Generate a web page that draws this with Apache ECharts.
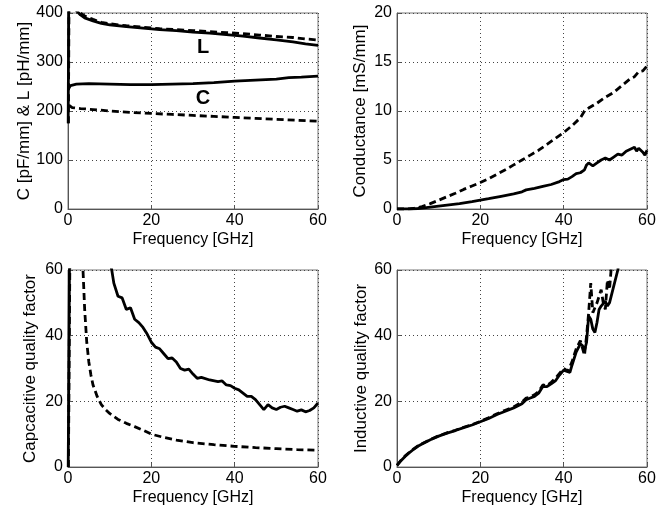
<!DOCTYPE html>
<html>
<head>
<meta charset="utf-8">
<script src="https://cdn.jsdelivr.net/npm/echarts@6/dist/echarts.min.js"></script>
<style>
  html, body { margin: 0; padding: 0; background: #fff; }
  #chart { width: 670px; height: 511px; }
</style>
</head>
<body>
<div id="chart"></div>
<script>
// x axis ticks (GHz), shared by all panels
const freqTicks = [0, 20, 40, 60];

/* ------------------------- C & L (top left) ------------------------- */
const lSolid = [
  [0.05, 175], [0.3, 700], [1, 425], [2, 405], [3, 396], [4, 390], [6, 384],
  [8, 379], [10, 376], [14, 372], [18, 369], [22, 366], [26, 364], [30, 361],
  [34, 359], [38, 356], [42, 353], [46, 349], [50, 345], [54, 341], [57, 337], [60, 334]
];
const lDashed = [
  [0.1, 175], [0.4, 700], [1, 430], [2, 408], [3, 400], [4, 394], [6, 387],
  [8, 381], [10, 378], [14, 374], [18, 371], [22, 368], [26, 366], [30, 364],
  [34, 362], [38, 360], [42, 358], [46, 355], [50, 352], [54, 350], [57, 347], [60, 345]
];
const cSolid = [
  [0.1, 245], [0.6, 252], [2, 255], [5, 256], [10, 255], [15, 254], [20, 254],
  [25, 255], [30, 256], [35, 258], [40, 261], [45, 263], [50, 265], [53, 268],
  [56, 269], [60, 271]
];
const cDashed = [
  [0.2, 212], [1, 207], [3, 205], [6, 203], [10, 200], [15, 197], [20, 195],
  [25, 193], [30, 191], [35, 189], [40, 187], [45, 185], [50, 183], [55, 181], [60, 179]
];

/* ---------------------- Conductance (top right) --------------------- */
const gDashed = [
  [0, 0], [2, 0], [4, 0.05], [6, 0.25], [8, 0.55], [10, 0.9], [12, 1.25], [14, 1.6],
  [16, 2.0], [18, 2.35], [20, 2.7], [22, 3.1], [24, 3.55], [26, 4.0], [28, 4.5],
  [30, 5.0], [32, 5.5], [34, 6.0], [36, 6.6], [38, 7.2], [40, 7.8], [42, 8.5],
  [44, 9.3], [45, 10.0], [46, 10.3], [48, 10.8], [50, 11.4], [52, 11.9], [54, 12.6],
  [56, 13.3], [57, 13.5], [58, 14.0], [59, 14.1], [60, 14.6]
];
const gSolid = [
  [0, 0], [3, 0], [5, 0.05], [7, 0.15], [10, 0.3], [12, 0.4], [15, 0.55], [18, 0.75],
  [20, 0.9], [22, 1.05], [25, 1.3], [28, 1.55], [30, 1.75], [31, 1.95], [33, 2.1],
  [35, 2.3], [37, 2.5], [39, 2.8], [40, 3.0], [41, 3.05], [42, 3.3], [43, 3.6],
  [44, 3.7], [45, 4.0], [45.5, 4.5], [46, 4.7], [47, 4.4], [48, 4.7], [49, 5.0],
  [50, 5.2], [51, 5.0], [52, 5.3], [53, 5.6], [54, 5.5], [55, 5.9], [56, 6.1],
  [57, 6.3], [57.5, 5.9], [58, 6.2], [59, 5.8], [59.5, 5.5], [60, 6.0]
];

/* ------------------ Capacitive quality (bottom left) ---------------- */
const qcSolid = [
  [0.05, 0], [0.5, 90], [5, 90], [10, 63], [10.5, 60], [11, 56], [12, 52], [13, 51.5],
  [14, 48], [15, 48.5], [16, 45], [17, 44], [18, 42.5], [19, 40.5], [20, 38],
  [21, 36.5], [22, 36], [23, 34.5], [24, 33], [25, 33.2], [26, 32], [27, 30],
  [28, 29.5], [29, 29.8], [30, 28.3], [31, 27], [32, 27.3], [34, 26.5], [36, 26],
  [37, 26.2], [38, 25], [39, 24.8], [40, 24], [41, 23.5], [42, 22.5], [43, 21.5],
  [44, 21.5], [45, 20.5], [46, 19], [47, 17.5], [48, 19], [49, 18], [50, 17.5],
  [51, 18.2], [52, 18.5], [53, 18], [54, 17.5], [55, 17], [56, 17.4], [57, 16.8],
  [58, 17.2], [59, 18], [60, 19.5]
];
const qcDashed = [
  [0.1, 0], [0.6, 90], [3.2, 70], [3.6, 60], [4, 48], [4.5, 38], [5, 32], [5.5, 28],
  [6, 25], [7, 21.5], [8, 19], [9, 17.5], [10, 16.3], [12, 14.5], [14, 13.3],
  [16, 12.3], [18, 11.2], [20, 10], [23, 9], [26, 8.2], [30, 7.4], [35, 6.8],
  [40, 6.3], [45, 5.9], [50, 5.6], [55, 5.3], [60, 5.1]
];

/* ------------------ Inductive quality (bottom right) ---------------- */
const qlSolid = [
  [0, 0.5], [1, 2], [2, 3.3], [3, 4.4], [4, 5.4], [5, 6.3], [6, 7], [8, 8.3],
  [10, 9.4], [12, 10.3], [14, 11.1], [16, 12], [18, 12.8], [20, 13.8], [22, 14.8],
  [24, 16], [26, 17], [28, 18], [30, 19.3], [31, 20.5], [32, 21], [33, 21.5],
  [34, 22.5], [35, 24.5], [36, 24.5], [37, 25.3], [38, 26.2], [39, 28], [40, 29.5],
  [41, 29], [41.5, 28.8], [42, 31], [43, 35], [44, 37.5], [44.5, 37], [45, 35.5],
  [45.5, 38], [46, 46], [46.5, 45], [47, 42], [47.5, 41], [48, 44], [48.5, 48],
  [49, 49], [50, 50.5], [50.5, 49], [51, 50], [52, 55], [53, 60], [54, 70]
];
const qlDashed = [
  [0, 0.5], [1, 2.1], [2, 3.4], [3, 4.5], [4, 5.5], [5, 6.4], [6, 7.1], [8, 8.4],
  [10, 9.5], [12, 10.4], [14, 11.2], [16, 12.1], [18, 12.9], [20, 13.9], [22, 15],
  [24, 16.2], [26, 17.3], [28, 18.3], [30, 19.8], [31, 21], [32, 21.3], [33, 22],
  [34, 23], [35, 25], [36, 24.8], [37, 25.8], [38, 27], [39, 28.5], [40, 30],
  [41, 29.2], [42, 32], [43, 36], [44, 38.5], [45, 34], [45.5, 40], [46, 47],
  [46.5, 56], [47, 47], [48, 50], [49, 54], [49.5, 50], [50, 48], [50.5, 57],
  [51, 54], [51.5, 62], [52, 70]
];

const yNames = [
  'C [pF/mm] & L [pH/mm]',
  'Conductance [mS/mm]',
  'Capcacitive quality factor',
  'Inductive quality factor'
];
const yMax = [400, 20, 60, 60];
const yInterval = [100, 5, 20, 20];

const font = 'Liberation Sans, Arial, sans-serif';
const grids = [
  { left: 68, top: 13, width: 250, height: 196 },
  { left: 397, top: 13, width: 250, height: 196 },
  { left: 68, top: 270, width: 250, height: 197 },
  { left: 397, top: 270, width: 250, height: 197 }
];
const yNameGaps = [34, 28, 29, 25];

const splitLine = {
  show: true,
  lineStyle: { color: '#444', type: [1, 3], width: 1 }
};

const xAxes = grids.map((g, i) => ({
  type: 'value',
  gridIndex: i,
  min: 0,
  max: 60,
  interval: 20,
  name: 'Frequency [GHz]',
  nameLocation: 'middle',
  nameGap: 23,
  nameTextStyle: { color: '#000', fontFamily: font, fontSize: 16 },
  axisLine: { show: true, onZero: false, lineStyle: { color: '#555' } },
  axisTick: { show: true, inside: true, length: 4, lineStyle: { color: '#555' } },
  axisLabel: { color: '#000', fontFamily: font, fontSize: 16, margin: 4 },
  splitLine
}));

const yAxes = grids.map((g, i) => ({
  type: 'value',
  gridIndex: i,
  min: 0,
  max: yMax[i],
  interval: yInterval[i],
  name: yNames[i],
  nameLocation: 'middle',
  nameGap: yNameGaps[i],
  nameTextStyle: { color: '#000', fontFamily: font, fontSize: 17 },
  axisLine: { show: true, lineStyle: { color: '#555' } },
  axisTick: { show: true, inside: true, length: 4, lineStyle: { color: '#555' } },
  axisLabel: { color: '#000', fontFamily: font, fontSize: 16, margin: 5 },
  splitLine
}));

const makeLine = (data, idx, dashed) => ({
  type: 'line',
  xAxisIndex: idx,
  yAxisIndex: idx,
  data,
  showSymbol: false,
  symbol: 'none',
  clip: true,
  silent: true,
  lineStyle: {
    color: '#000',
    width: 2.8,
    type: dashed ? [7, 4] : 'solid'
  }
});

const chart = echarts.init(document.getElementById('chart'));
chart.setOption({
  backgroundColor: '#fff',
  animation: false,
  grid: grids.map(g => ({ ...g, show: true, borderColor: '#777', borderWidth: 1 })),
  xAxis: xAxes,
  yAxis: yAxes,
  series: [
    makeLine(lSolid, 0, false),
    makeLine(lDashed, 0, true),
    makeLine(cSolid, 0, false),
    makeLine(cDashed, 0, true),
    makeLine(gDashed, 1, true),
    makeLine(gSolid, 1, false),
    makeLine(qcSolid, 2, false),
    makeLine(qcDashed, 2, true),
    makeLine(qlDashed, 3, true),
    makeLine(qlSolid, 3, false)
  ]
});

// "L" and "C" curve tags, anchored in data coordinates
const tagAt = (text, point) => {
  const [x, y] = chart.convertToPixel({ gridIndex: 0 }, point);
  return {
    type: 'text',
    x,
    y,
    style: {
      text,
      fill: '#000',
      font: `bold 20px ${font}`,
      align: 'center',
      verticalAlign: 'middle'
    }
  };
};
chart.setOption({
  graphic: [tagAt('L', [32.4, 330]), tagAt('C', [32.4, 226])]
});
</script>
</body>
</html>
